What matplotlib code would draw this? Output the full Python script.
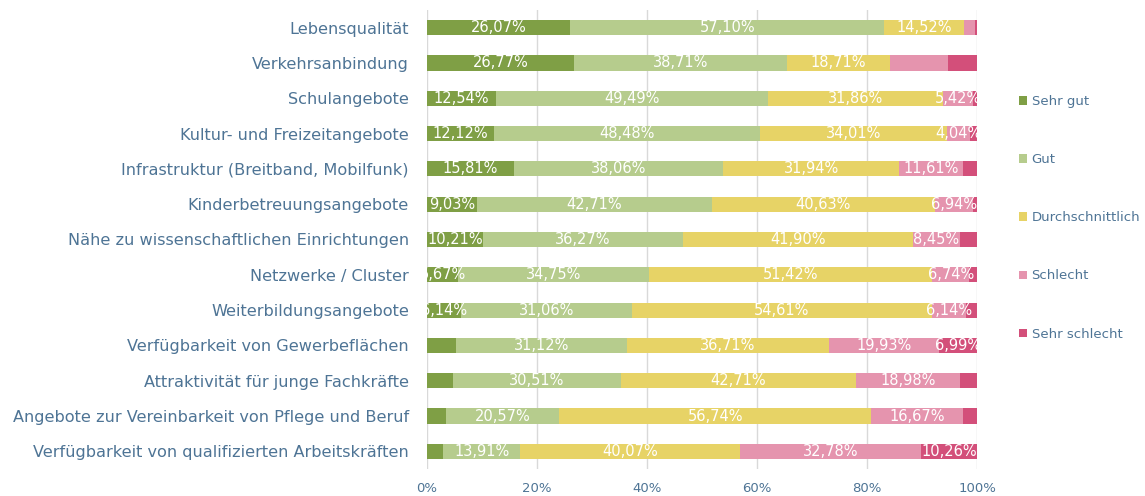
import matplotlib
matplotlib.use("Agg")
import matplotlib.pyplot as plt
import numpy as np

categories = [
    "Lebensqualität",
    "Verkehrsanbindung",
    "Schulangebote",
    "Kultur- und Freizeitangebote",
    "Infrastruktur (Breitband, Mobilfunk)",
    "Kinderbetreuungsangebote",
    "Nähe zu wissenschaftlichen Einrichtungen",
    "Netzwerke / Cluster",
    "Weiterbildungsangebote",
    "Verfügbarkeit von Gewerbeflächen",
    "Attraktivität für junge Fachkräfte",
    "Angebote zur Vereinbarkeit von Pflege und Beruf",
    "Verfügbarkeit von qualifizierten Arbeitskräften",
]

series_names = ["Sehr gut", "Gut", "Durchschnittlich", "Schlecht", "Sehr schlecht"]

sehr_gut = [26.07, 26.77, 12.54, 12.12, 15.81, 9.03, 10.21, 5.67, 6.14, 5.25, 4.75, 3.44, 2.98]
gut = [57.10, 38.71, 49.49, 48.48, 38.06, 42.71, 36.27, 34.75, 31.06, 31.12, 30.51, 20.57, 13.91]
durchschnittlich = [14.52, 18.71, 31.86, 34.01, 31.94, 40.63, 41.90, 51.42, 54.61, 36.71, 42.71, 56.74, 40.07]
schlecht = [2.00, 10.60, 5.42, 4.04, 11.61, 6.94, 8.45, 6.74, 6.14, 19.93, 18.98, 16.67, 32.78]
sehr_schlecht = [0.31, 5.21, 0.69, 1.35, 2.58, 0.69, 3.17, 1.42, 2.05, 6.99, 3.05, 2.58, 10.26]

# which segments carry a value label in the original chart
show_sehr_gut = [1, 1, 1, 1, 1, 1, 1, 1, 1, 0, 0, 0, 0]
show_gut = [1] * 13
show_durchschnittlich = [1] * 13
show_schlecht = [0, 0, 1, 1, 1, 1, 1, 1, 1, 1, 1, 1, 1]
show_sehr_schlecht = [0, 0, 0, 0, 0, 0, 0, 0, 0, 1, 0, 0, 1]

x_ticks = [0, 20, 40, 60, 80, 100]
x_tick_labels = ["0%", "20%", "40%", "60%", "80%", "100%"]

colors = ["#7f9f45", "#b6cc8d", "#e7d366", "#e594ae", "#d34f7a"]
text_color = "#4e7495"

values = [sehr_gut, gut, durchschnittlich, schlecht, sehr_schlecht]
shows = [show_sehr_gut, show_gut, show_durchschnittlich, show_schlecht, show_sehr_schlecht]

fig = plt.figure(figsize=(11.45, 4.96), dpi=100)
W, H = 1145, 496
ax = fig.add_axes([427 / W, (H - 469) / H, (977 - 427) / W, (469 - 10) / H])

y = np.arange(len(categories))
left = np.zeros(len(categories))
handles = []
for vals, show, col, name in zip(values, shows, colors, series_names):
    vals = np.array(vals)
    bars = ax.barh(y, vals, left=left, height=0.43, color=col, label=name, zorder=3)
    handles.append(bars)
    for i, (v, s) in enumerate(zip(vals, show)):
        if s:
            ax.text(left[i] + v / 2, y[i], f"{v:.2f}%".replace(".", ","),
                    ha="center", va="center", color="white", fontsize=10.5,
                    zorder=4, clip_on=True)
    left += vals

ax.set_xlim(0, 100)
ax.set_ylim(len(categories) - 0.5, -0.5)
ax.set_yticks(y)
ax.set_yticklabels(categories, fontsize=11.6, color=text_color)
ax.set_xticks(x_ticks)
ax.set_xticklabels(x_tick_labels, fontsize=9.5, color=text_color)
ax.tick_params(axis="both", length=0)
ax.tick_params(axis="y", pad=13)
ax.tick_params(axis="x", pad=9)
for sp in ax.spines.values():
    sp.set_visible(False)
ax.grid(axis="x", color="#d9d9d9", linewidth=1, zorder=0)
ax.set_axisbelow(True)

leg = fig.legend(handles=handles, labels=series_names, loc="upper left",
                 bbox_to_anchor=(1019 / W, 1 - 95 / H), frameon=False,
                 fontsize=9.5, labelcolor=text_color, handlelength=0.6,
                 handleheight=0.6, handletextpad=0.35, labelspacing=3.42,
                 borderpad=0, borderaxespad=0)

fig.savefig("out.png", dpi=100)
